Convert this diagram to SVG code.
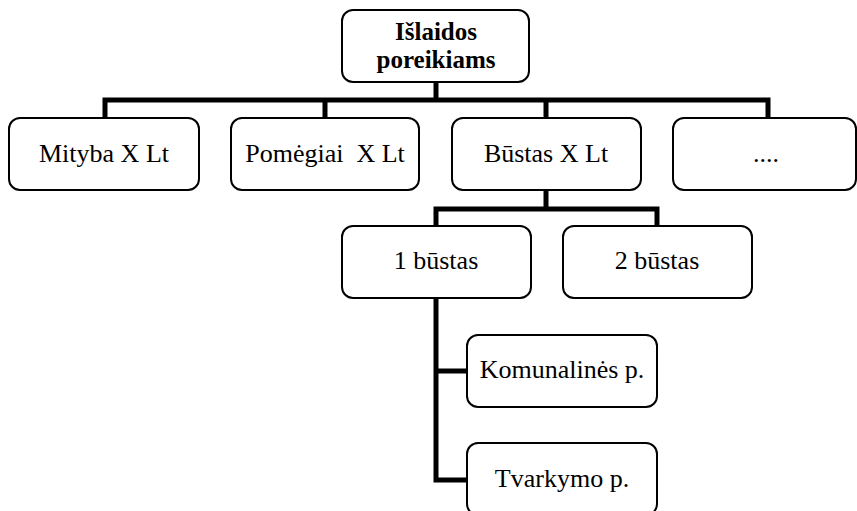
<svg xmlns="http://www.w3.org/2000/svg" width="857" height="511" viewBox="0 0 857 511">
  <style>
    .box { fill: #ffffff; stroke: #000000; stroke-width: 2; }
    .lbl { font-family: "Liberation Serif", "Times New Roman", serif; font-size: 26px; fill: #000000; text-anchor: middle; white-space: pre; }
    .bold { font-weight: bold; font-size: 25px; }
    .wire { fill: none; stroke: #000000; stroke-width: 5; stroke-linejoin: miter; stroke-linecap: butt; }
  </style>
  <rect width="857" height="511" fill="#ffffff"/>

  <g id="connectors">
    <!-- root to first level -->
    <path class="wire" d="M436 82 V100"/>
    <path class="wire" d="M105 118 V100 H768 V118"/>
    <path class="wire" d="M325 100 V118"/>
    <path class="wire" d="M546 100 V118"/>
    <!-- Būstas to its children -->
    <path class="wire" d="M546 190 V209"/>
    <path class="wire" d="M436 226 V209 H657 V226"/>
    <!-- 1 būstas to its items -->
    <path class="wire" d="M436 298 V480 H467"/>
    <path class="wire" d="M436 371 H467"/>
  </g>

  <g id="root">
    <rect class="box" x="342" y="10" width="187" height="72" rx="11"/>
    <text class="lbl bold" x="436" y="40">Išlaidos</text>
    <text class="lbl bold" x="436" y="68">poreikiams</text>
  </g>

  <g id="mityba">
    <rect class="box" x="9" y="118" width="190" height="72" rx="11"/>
    <text class="lbl" x="104" y="162">Mityba X Lt</text>
  </g>

  <g id="pomegiai">
    <rect class="box" x="231" y="118" width="188" height="72" rx="11"/>
    <text class="lbl" x="325" y="162">Pomėgiai  X Lt</text>
  </g>

  <g id="bustas">
    <rect class="box" x="452" y="118" width="189" height="72" rx="11"/>
    <text class="lbl" x="546" y="162">Būstas X Lt</text>
  </g>

  <g id="kita">
    <rect class="box" x="673" y="118" width="183" height="72" rx="11"/>
    <text class="lbl" x="766" y="162">....</text>
  </g>

  <g id="bustas1">
    <rect class="box" x="342" y="226" width="189" height="72" rx="11"/>
    <text class="lbl" x="436" y="269">1 būstas</text>
  </g>

  <g id="bustas2">
    <rect class="box" x="563" y="226" width="189" height="72" rx="11"/>
    <text class="lbl" x="657" y="269">2 būstas</text>
  </g>

  <g id="komunalines">
    <rect class="box" x="467" y="335" width="190" height="72" rx="11"/>
    <text class="lbl" x="562" y="378">Komunalinės p.</text>
  </g>

  <g id="tvarkymo">
    <rect class="box" x="467" y="443" width="190" height="72" rx="11"/>
    <text class="lbl" x="562" y="487">Tvarkymo p.</text>
  </g>
</svg>
